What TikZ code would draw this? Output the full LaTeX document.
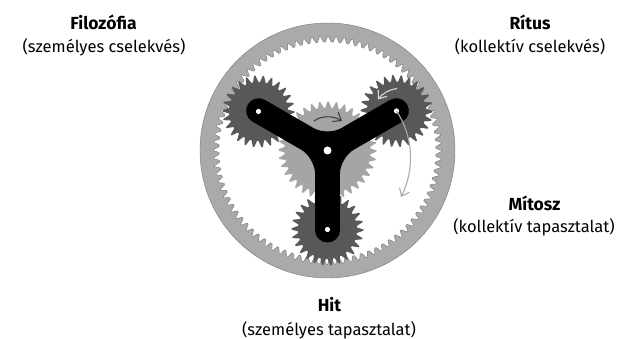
\documentclass[tikz,border=0pt]{standalone}
\usepackage{fontspec}
\setmainfont{Fira Sans}
\usetikzlibrary{calc,arrows.meta}
\definecolor{ringGray}{RGB}{170,170,170}
\definecolor{sunGray}{RGB}{165,165,165}
\definecolor{planetGray}{RGB}{88,88,88}
\definecolor{ringEdge}{RGB}{120,120,120}
% gear outline: centre, root radius, tip radius, number of teeth
\newcommand{\GearPath}[5]{
\pgfmathsetmacro{\Pitch}{360/#4}
\fill[#5] ($(#1)+(0:#3)$) \foreach \i in {1,...,#4} {
-- ($(#1)+({\Pitch*(\i-0.72)}:#2)$) -- ($(#1)+({\Pitch*(\i-0.5)}:#2)$) -- ($(#1)+({\Pitch*(\i-0.14)}:#3)$) -- ($(#1)+({\Pitch*\i}:#3)$)
} -- cycle;
}
\tikzset{
captionBold/.style={font=\fontsize{17.5}{19}\selectfont\bfseries,inner sep=0pt,anchor=center},
captionText/.style={font=\fontsize{16.5}{19}\selectfont,inner sep=0pt,anchor=center},
hole/.style={fill=white},
spin/.style={line width=1.1pt,-{Straight Barb[length=7pt,width=11pt]}}
}
\begin{document}
\begin{tikzpicture}[x=1pt,y=1pt]
\useasboundingbox (0,0) rectangle (618,339);
\coordinate (sunC) at (327.5,188.5);
\coordinate (planetL) at (258.5,227.5);
\coordinate (planetR) at (396.5,228);
\coordinate (planetB) at (327.5,109.5);
% ring
\fill[ringGray,draw=ringEdge,line width=0.4pt] (sunC) circle[radius=127.5];
\GearPath{sunC}{108.5}{114}{88}{white,draw=ringEdge,line width=0.5pt}
% gears
\GearPath{sunC}{43}{49}{36}{sunGray}
\GearPath{planetL}{29.5}{36}{26}{planetGray}
\GearPath{planetR}{29.5}{36}{26}{planetGray}
\GearPath{planetB}{29.5}{36}{26}{planetGray}
% carrier
\foreach \a/\n in {150/L,30/R,-90/B} {
\begin{scope}[shift={(sunC)},rotate=\a]
\coordinate (tip\n a) at (92,12.5);
\coordinate (tip\n b) at (92,-12.5);
\coordinate (fork\n) at (-60:14.4);
\end{scope}
}
\fill[black,rounded corners=12.4pt] (tipLa) -- (tipLb) [rounded corners=16pt] -- (forkL) [rounded corners=12.4pt] -- (tipRa) -- (tipRb) [rounded corners=16pt] -- (forkR) [rounded corners=12.4pt] -- (tipBa) -- (tipBb) [rounded corners=16pt] -- (forkB) [rounded corners=12.4pt] -- cycle;
\fill[hole] (sunC) circle[radius=4];
\fill[hole] (planetL) circle[radius=2.6];
\fill[hole] (planetR) circle[radius=2.6];
\fill[hole] (planetB) circle[radius=2.6];
% arrows
\coordinate (spinA) at (314,218);
\coordinate (spinB) at (342,218);
\coordinate (spinC) at (397,250.5);
\coordinate (spinD) at (378,239.5);
\coordinate (spinF) at (401,142);
\draw[spin,black!75] (spinA) .. controls (322,224) and (334,223) .. (spinB);
\draw[spin,white!85!black] (spinC) .. controls (388,249) and (382,245) .. (spinD);
\draw[spin,ringGray] (planetR) .. controls (412,205) and (416,172) .. (spinF);
% labels
\node[captionBold] (filozofia) at (103.5,317) {Filozófia};
\node[captionText] (filozofiaSub) at (104,292) {(személyes cselekvés)};
\node[captionBold] (ritus) at (530,317) {Rítus};
\node[captionText] (ritusSub) at (530,292) {(kollektív cselekvés)};
\node[captionBold] (mitosz) at (534.5,136) {Mítosz};
\node[captionText] (mitoszSub) at (534,112) {(kollektív tapasztalat)};
\node[captionBold] (hit) at (329.5,34) {Hit};
\node[captionText] (hitSub) at (329,9) {(személyes tapasztalat)};
\end{tikzpicture}
\end{document}
